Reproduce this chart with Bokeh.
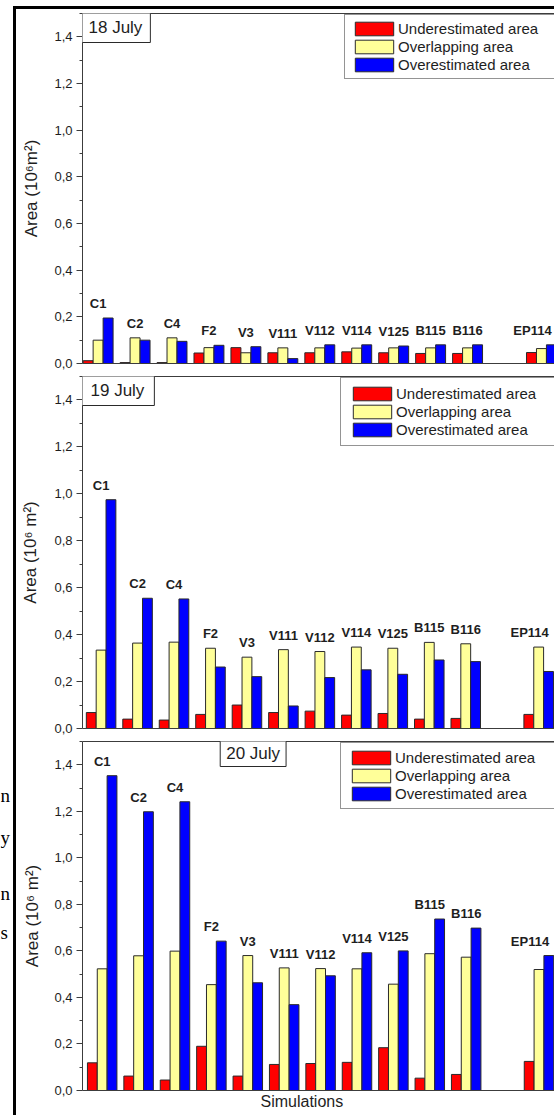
from bokeh.plotting import figure
from bokeh.models import (ColumnDataSource, Range1d, FixedTicker, LinearAxis,
                          Legend, LegendItem, Label, Title, Spacer)
from bokeh.transform import dodge
from bokeh.layouts import column, row
from bokeh.core.properties import value
from bokeh.embed import file_html
from bokeh.resources import INLINE

# ---- data -------------------------------------------------------------
simulations = ["C1", "C2", "C4", "F2", "V3", "V111", "V112", "V114",
               "V125", "B115", "B116", "EP114"]
positions = [1, 2, 3, 4, 5, 6, 7, 8, 9, 10, 11, 13]

series_names = ["Underestimated area", "Overlapping area", "Overestimated area"]

# 18 July (10^6 m^2)
under_18 = [0.012, 0.004, 0.004, 0.045, 0.068, 0.046, 0.046, 0.050, 0.046, 0.043, 0.043, 0.047]
overlap_18 = [0.100, 0.110, 0.110, 0.068, 0.046, 0.067, 0.067, 0.066, 0.067, 0.067, 0.067, 0.064]
over_18 = [0.195, 0.100, 0.095, 0.078, 0.072, 0.021, 0.080, 0.080, 0.075, 0.080, 0.080, 0.080]

# 19 July
under_19 = [0.068, 0.040, 0.036, 0.060, 0.100, 0.068, 0.074, 0.057, 0.064, 0.040, 0.043, 0.060]
overlap_19 = [0.334, 0.364, 0.368, 0.342, 0.304, 0.336, 0.328, 0.347, 0.342, 0.367, 0.361, 0.347]
over_19 = [0.975, 0.555, 0.552, 0.262, 0.221, 0.096, 0.217, 0.250, 0.231, 0.292, 0.285, 0.243]

# 20 July
under_20 = [0.119, 0.062, 0.045, 0.190, 0.062, 0.112, 0.116, 0.121, 0.184, 0.053, 0.069, 0.125]
overlap_20 = [0.523, 0.579, 0.599, 0.455, 0.580, 0.527, 0.524, 0.523, 0.457, 0.588, 0.573, 0.520]
over_20 = [1.353, 1.198, 1.241, 0.642, 0.463, 0.369, 0.493, 0.592, 0.600, 0.737, 0.698, 0.580]

y_ticks = [0.0, 0.2, 0.4, 0.6, 0.8, 1.0, 1.2, 1.4]
y_tick_labels = ["0,0", "0,2", "0,4", "0,6", "0,8", "1,0", "1,2", "1,4"]
y_minor_ticks = [0.1, 0.3, 0.5, 0.7, 0.9, 1.1, 1.3, 1.5]

# letters of the neighbouring page text showing in the left margin
margin_letters = ["n", "y", "n", "s"]

# ---- style ------------------------------------------------------------
FONT = "Liberation Sans"
SERIF = "Liberation Serif"
RED, YELLOW, BLUE = "#ff0000", "#ffff99", "#0000ff"
EDGE = "#2a2a2a"
AXIS = "#3c3c3c"
TEXT = "#1e1e1e"
BAR_W = 0.27
label_nudge = [0, 0, 0, 0, 0, 0, 0, 0, 0, 0, 0, -9]

PAGE_W, PAGE_H = 554, 1115
TOP_GAP, RULE = 6, 3
MARGIN = 13
BODY_H = PAGE_H - TOP_GAP - RULE
PANEL_W = PAGE_W - MARGIN - RULE

panels = [
    dict(date="18 July", ylabel="Area (10\u2076m\u00b2)",
         under=under_18, overlap=overlap_18, over=over_18,
         height=361, top=4, bottom=7, left=64, x0=0.577, x1=13.353,
         ylabel_standoff=10, date_x=None, date_pad=dict(left=8, right=8, top=6, bottom=6),
         legend_xy=(262, 284), legend_pad=5, xlabel=False),
    dict(date="19 July", ylabel="Area (10\u2076 m\u00b2)",
         under=under_19, overlap=overlap_19, over=over_19,
         height=365, top=6, bottom=7, left=63, x0=0.490, x1=13.434,
         ylabel_standoff=11, date_x=None, date_pad=dict(left=10, right=10, top=6, bottom=6),
         legend_xy=(258, 282), legend_pad=7, xlabel=False),
    dict(date="20 July", ylabel="Area (10\u2076 m\u00b2)",
         under=under_20, overlap=overlap_20, over=over_20,
         height=380, top=6, bottom=25, left=66, x0=0.459, x1=13.426,
         ylabel_standoff=9, date_x=4.297, date_pad=dict(left=6, right=6, top=4, bottom=4),
         legend_xy=(258, 281), legend_pad=6, xlabel=True),
]


def plain_axis():
    return LinearAxis(ticker=FixedTicker(ticks=[]), major_label_text_font_size="0px",
                      major_tick_out=0, major_tick_in=0, minor_tick_out=0, minor_tick_in=0,
                      axis_line_color=AXIS, axis_line_width=1)


def make_panel(cfg):
    p = figure(width=PANEL_W, height=cfg["height"],
               x_range=Range1d(cfg["x0"], cfg["x1"]), y_range=Range1d(0, 1.5),
               x_axis_type=None, y_axis_type=None,
               output_backend="svg", toolbar_location=None,
               min_border_left=cfg["left"], min_border_right=0,
               min_border_top=cfg["top"], min_border_bottom=cfg["bottom"])
    p.outline_line_color = None
    p.background_fill_color = "white"
    p.border_fill_color = "white"

    yaxis = LinearAxis(
        ticker=FixedTicker(ticks=y_ticks, minor_ticks=y_minor_ticks),
        major_label_overrides=dict(zip(y_ticks, y_tick_labels)),
        axis_label=cfg["ylabel"], axis_label_standoff=cfg["ylabel_standoff"],
        axis_label_text_font=FONT, axis_label_text_font_size="17px",
        axis_label_text_font_style="normal", axis_label_text_color=TEXT,
        major_label_text_font=FONT, major_label_text_font_size="13px",
        major_label_text_color=TEXT, major_label_standoff=4,
        major_tick_out=6, major_tick_in=0, minor_tick_out=3, minor_tick_in=0,
        axis_line_color=AXIS, major_tick_line_color=AXIS, minor_tick_line_color=AXIS)
    p.add_layout(yaxis, "left")
    p.add_layout(plain_axis(), "below")
    p.add_layout(plain_axis(), "above")

    tops = [max(a, b, c) for a, b, c in zip(cfg["under"], cfg["overlap"], cfg["over"])]
    src = ColumnDataSource(dict(x=positions, name=simulations, under=cfg["under"],
                                overlap=cfg["overlap"], over=cfg["over"], top=tops,
                                nudge=label_nudge))

    renderers = []
    for field, off, color in (("under", -BAR_W, RED), ("overlap", 0.0, YELLOW), ("over", BAR_W, BLUE)):
        r = p.vbar(x=dodge("x", off, range=p.x_range), top=field, bottom=0, width=BAR_W,
                   source=src, fill_color=color, line_color=EDGE, line_width=1)
        renderers.append(r)

    p.text(x="x", y="top", text="name", source=src, x_offset="nudge", y_offset=-7,
           text_font=value(FONT), text_font_style="bold", text_font_size="13px",
           text_align="center", text_baseline="bottom", text_color=TEXT)

    legend = Legend(items=[LegendItem(label=n, renderers=[r]) for n, r in zip(series_names, renderers)],
                    location=cfg["legend_xy"], orientation="vertical",
                    glyph_width=48, glyph_height=17, label_width=175, label_height=14,
                    label_standoff=0, padding=cfg["legend_pad"], spacing=1, margin=0,
                    label_text_font=FONT, label_text_font_size="15px", label_text_color=TEXT,
                    border_line_color=EDGE, border_line_width=1,
                    background_fill_color="white", background_fill_alpha=1.0)
    p.add_layout(legend)

    date_x = cfg["x0"] if cfg["date_x"] is None else cfg["date_x"]
    p.add_layout(Label(x=date_x, y=1.5, text=cfg["date"], text_font=FONT, text_font_size="17px",
                       text_color=TEXT, text_align="left", text_baseline="top",
                       x_offset=-2, y_offset=2, padding=cfg["date_pad"],
                       border_line_color=EDGE, border_line_width=1,
                       background_fill_color="white", background_fill_alpha=1.0))

    if cfg["xlabel"]:
        p.add_layout(Title(text="Simulations", align="left", offset=178, standoff=0,
                           text_font=FONT, text_font_size="16px", text_font_style="normal",
                           text_color=TEXT), "below")
    return p


# left page margin with the cut-off letters of the neighbouring text column
margin = figure(width=MARGIN, height=BODY_H, x_range=Range1d(0, MARGIN), y_range=Range1d(BODY_H, 0),
                x_axis_type=None, y_axis_type=None, output_backend="svg", toolbar_location=None,
                min_border=0, min_border_left=0, min_border_right=0,
                min_border_top=0, min_border_bottom=0)
margin.outline_line_color = None
margin.grid.visible = False
margin.border_fill_color = "white"
margin.text(x=[0, 0, 0, 0], y=[786, 828, 884, 923], text=margin_letters,
            text_font=value(SERIF), text_font_size="19px", text_color="black",
            text_align="left", text_baseline="alphabetic")

# black page rules: one across the top, one down the left of the figure block
BLACK = {"background-color": "black"}
top_block = column(Spacer(width=PAGE_W, height=TOP_GAP),
                   row(Spacer(width=MARGIN, height=RULE),
                       Spacer(width=PAGE_W - MARGIN, height=RULE, styles=BLACK)))

figs = [make_panel(c) for c in panels]

body = row(margin, Spacer(width=RULE, height=BODY_H, styles=BLACK), column(*figs))
layout = column(top_block, body)
open("out.html", "w").write(file_html(layout, INLINE))
